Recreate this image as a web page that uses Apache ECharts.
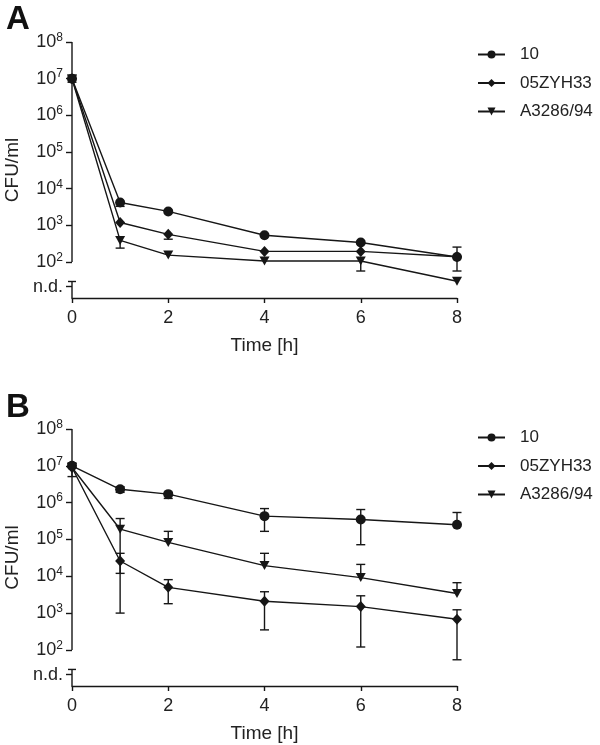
<!DOCTYPE html>
<html>
<head>
<meta charset="utf-8">
<script src="https://cdn.jsdelivr.net/npm/echarts@6/dist/echarts.min.js"></script>
<style>
  html, body { margin: 0; padding: 0; background: #fff; }
  #chart { width: 600px; height: 745px; }
</style>
</head>
<body>
<div id="chart"></div>
<script>
// sampling times (h) and tick values
var times = [0, 1, 2, 4, 6, 8];
var xTicks = [0, 2, 4, 6, 8];
var yDecades = [2, 3, 4, 5, 6, 7, 8];
var strains = ['10', '05ZYH33', 'A3286/94'];

// panel A - CFU/ml
var meanA_10 = [1e7, 4200, 2400, 540, 340, 137];
var meanA_05 = [1e7, 1200, 570, 195, 195, 140];
var meanA_A3 = [1e7, 390, 155, 107, 107, 30];
// whiskers [low, high], null = no whisker on that side
var errA_10 = [[8e6, 1.2e7], [3300, null], null, null, null, [57, 256]];
var errA_05 = [null, null, [420, null], null, null, null];
var errA_A3 = [null, [240, null], null, null, [57, null], null];

// panel B - CFU/ml
var meanB_10 = [1e7, 2.3e6, 1.7e6, 4.3e5, 3.5e5, 2.5e5];
var meanB_05 = [9e6, 2.6e4, 5.0e3, 2.1e3, 1.5e3, 680];
var meanB_A3 = [9e6, 1.9e5, 8.3e4, 1.95e4, 9.2e3, 3.4e3];
var errB_10 = [[5.1e6, 1.2e7], [1.9e6, 2.7e6], [1.3e6, 1.9e6], [1.66e5, 6.9e5], [7.2e4, 6.5e5], [null, 5.4e5]];
var errB_05 = [null, [1.0e3, 4.2e4], [1.8e3, 8.1e3], [350, 3.8e3], [120, 2.95e3], [54, 1.23e3]];
var errB_A3 = [null, [1.2e4, 3.7e5], [null, 1.66e5], [null, 4.2e4], [null, 2.1e4], [null, 6.7e3]];

// axis helpers (log10 units)
var Y_MIN = 1.02, ND = 1.33, ND_CAP = 1.47;
var INK = '#161616';
var FONT = 'Liberation Sans, Arial, sans-serif';

var symbols = {
  '10': { symbol: 'circle', size: 10 },
  '05ZYH33': { symbol: 'diamond', size: [10, 11] },
  'A3286/94': { symbol: 'path://M0,0L10,0L5,9Z', size: [10, 9] }
};

function lg(v) { return Math.log10(v); }

function lineSeries(name, means, idx) {
  return {
    type: 'line',
    name: name,
    xAxisIndex: idx,
    yAxisIndex: idx,
    data: times.map(function (t, i) { return [t, lg(means[i])]; }),
    symbol: symbols[name].symbol,
    symbolSize: symbols[name].size,
    showSymbol: true,
    lineStyle: { color: INK, width: 1.4 },
    itemStyle: { color: INK },
    emphasis: { disabled: true },
    z: 3
  };
}

function errSeries(means, errs, idx) {
  var data = [];
  errs.forEach(function (e, i) {
    if (!e) return;
    var m = lg(means[i]);
    data.push([times[i],
      e[0] == null ? m : lg(e[0]),
      e[1] == null ? m : lg(e[1]),
      e[0] == null ? 0 : 1,
      e[1] == null ? 0 : 1]);
  });
  return {
    type: 'custom',
    xAxisIndex: idx,
    yAxisIndex: idx,
    data: data,
    silent: true,
    z: 2,
    renderItem: function (params, api) {
      var lo = api.coord([api.value(0), api.value(1)]);
      var hi = api.coord([api.value(0), api.value(2)]);
      var st = { stroke: INK, lineWidth: 1.4 };
      var kids = [{ type: 'line', shape: { x1: lo[0], y1: lo[1], x2: hi[0], y2: hi[1] }, style: st }];
      if (api.value(3)) kids.push({ type: 'line', shape: { x1: lo[0] - 4.5, y1: lo[1], x2: lo[0] + 4.5, y2: lo[1] }, style: st });
      if (api.value(4)) kids.push({ type: 'line', shape: { x1: hi[0] - 4.5, y1: hi[1], x2: hi[0] + 4.5, y2: hi[1] }, style: st });
      return { type: 'group', children: kids };
    }
  };
}

// broken y axis line: 10^2..10^8 plus the short n.d. stub
function axisSeries(idx) {
  return {
    type: 'custom',
    xAxisIndex: idx,
    yAxisIndex: idx,
    data: [[0]],
    silent: true,
    clip: false,
    z: 1,
    renderItem: function (params, api) {
      var top = api.coord([0, 8]), low = api.coord([0, 2]);
      var cap = api.coord([0, ND_CAP]), base = api.coord([0, Y_MIN]);
      var st = { stroke: INK, lineWidth: 1.4 };
      return {
        type: 'group',
        children: [
          { type: 'line', shape: { x1: top[0], y1: top[1], x2: low[0], y2: low[1] }, style: st },
          { type: 'line', shape: { x1: cap[0], y1: cap[1], x2: base[0], y2: base[1] }, style: st },
          { type: 'line', shape: { x1: cap[0] - 4, y1: cap[1], x2: cap[0] + 4, y2: cap[1] }, style: st }
        ]
      };
    }
  };
}

function xAxisCfg(idx) {
  return {
    type: 'value',
    gridIndex: idx,
    min: 0, max: 8, interval: 2,
    name: 'Time [h]',
    nameLocation: 'middle',
    nameGap: 38,
    nameTextStyle: { fontSize: 19, color: '#222', fontFamily: FONT },
    axisLine: { onZero: false, lineStyle: { color: INK, width: 1.4 } },
    axisTick: { length: 5, lineStyle: { color: INK, width: 1.4 }, customValues: xTicks },
    axisLabel: { fontSize: 18, color: '#222', fontFamily: FONT, margin: 11, customValues: xTicks },
    splitLine: { show: false }
  };
}

function yAxisCfg(idx) {
  var vals = yDecades.concat([ND]);
  return {
    type: 'value',
    gridIndex: idx,
    min: Y_MIN, max: 8,
    name: 'CFU/ml',
    nameLocation: 'middle',
    nameRotate: 90,
    nameGap: 50,
    nameTextStyle: { fontSize: 19, color: '#222', fontFamily: FONT },
    axisLine: { show: false },
    axisTick: { show: true, length: 6, lineStyle: { color: INK, width: 1.4 }, customValues: vals },
    axisLabel: {
      margin: 9,
      customValues: vals,
      color: '#222',
      fontFamily: FONT,
      formatter: function (v) {
        if (Math.abs(v - ND) < 0.01) return '{b|n.d.}';
        return '{b|10}{s|' + Math.round(v) + '}';
      },
      rich: {
        b: { fontSize: 18, color: '#222', fontFamily: FONT },
        s: { fontSize: 12, color: '#222', fontFamily: FONT, padding: [0, 0, 9, 0] }
      }
    },
    splitLine: { show: false }
  };
}

function legendCfg(top) {
  return {
    data: strains,
    orient: 'vertical',
    left: 472,
    top: top,
    itemWidth: 27,
    itemHeight: 10,
    itemGap: 11.5,
    selectedMode: false,
    textStyle: { fontSize: 17, color: '#222', fontFamily: FONT, padding: [0, 0, 0, 10] }
  };
}

var chart = echarts.init(document.getElementById('chart'));
chart.setOption({
  animation: false,
  backgroundColor: '#fff',
  title: [
    { text: 'A', left: 1, top: -2, textStyle: { fontSize: 33, fontWeight: 'bold', color: '#111', fontFamily: FONT } },
    { text: 'B', left: 1, top: 386, textStyle: { fontSize: 33, fontWeight: 'bold', color: '#111', fontFamily: FONT } }
  ],
  legend: [legendCfg(41), legendCfg(424)],
  grid: [
    { left: 72, top: 42, width: 385, height: 256, outerBoundsMode: 'none' },
    { left: 72, top: 429, width: 385, height: 257, outerBoundsMode: 'none' }
  ],
  xAxis: [xAxisCfg(0), xAxisCfg(1)],
  yAxis: [yAxisCfg(0), yAxisCfg(1)],
  series: [
    axisSeries(0),
    axisSeries(1),
    errSeries(meanA_10, errA_10, 0),
    errSeries(meanA_05, errA_05, 0),
    errSeries(meanA_A3, errA_A3, 0),
    errSeries(meanB_10, errB_10, 1),
    errSeries(meanB_05, errB_05, 1),
    errSeries(meanB_A3, errB_A3, 1),
    lineSeries('10', meanA_10, 0),
    lineSeries('05ZYH33', meanA_05, 0),
    lineSeries('A3286/94', meanA_A3, 0),
    lineSeries('10', meanB_10, 1),
    lineSeries('05ZYH33', meanB_05, 1),
    lineSeries('A3286/94', meanB_A3, 1)
  ]
});
</script>
</body>
</html>
